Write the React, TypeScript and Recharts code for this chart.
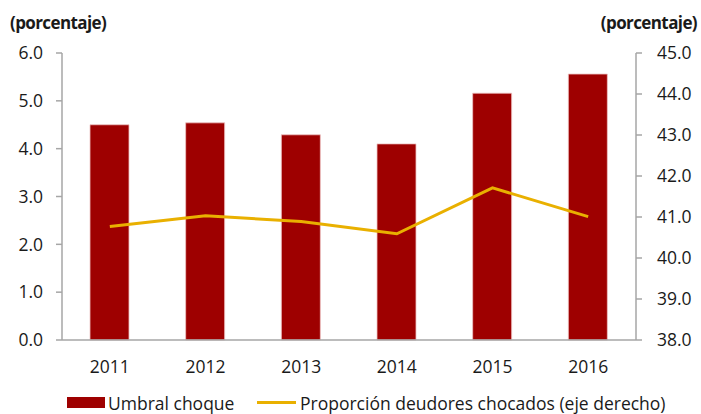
import React from "react";
import { ComposedChart, Bar, Line, XAxis, YAxis } from "recharts";

const years = ["2011", "2012", "2013", "2014", "2015", "2016"];
const umbralChoque = [4.5, 4.54, 4.29, 4.1, 5.16, 5.56];
const proporcionDeudores = [40.77, 41.03, 40.89, 40.59, 41.71, 41.01];
const leftTicks = [0, 1, 2, 3, 4, 5, 6];
const rightTicks = [38, 39, 40, 41, 42, 43, 44, 45];
const unitLabel = "(porcentaje)";
const legendBar = "Umbral choque";
const legendLine = "Proporción deudores chocados (eje derecho)";

const data = years.map((y, i) => ({
  year: y,
  umbral: umbralChoque[i],
  proporcion: proporcionDeudores[i],
}));

const FONT = "'Open Sans', 'DejaVu Sans', sans-serif";
const AXIS = "#A6A6A6";
const TXT = "#1a1a1a";
const BAR = "#9E0000";
const LINE = "#E9B000";

export default function App() {
  return (
    <div style={{ position: "absolute", left: 0, top: 0, width: 701, height: 414, background: "#fff", fontFamily: FONT }}>
      <ComposedChart
        width={701}
        height={414}
        data={data}
        margin={{ top: 53, right: 0, bottom: 0, left: 0 }}
      >
        <XAxis
          dataKey="year"
          height={74}
          tickLine={false}
          tickSize={0}
          tickMargin={21}
          axisLine={{ stroke: AXIS, strokeWidth: 1.5 }}
          tick={{ fill: TXT, fontSize: 17.5, fontFamily: FONT }}
        />
        <YAxis
          yAxisId="left"
          orientation="left"
          width={62}
          domain={[0, 6]}
          ticks={leftTicks}
          interval={0}
          tickFormatter={(v: number) => v.toFixed(1)}
          tickSize={6}
          tickMargin={13}
          axisLine={{ stroke: AXIS, strokeWidth: 1.5 }}
          tickLine={{ stroke: AXIS, strokeWidth: 1.5 }}
          tick={{ fill: TXT, fontSize: 17.5, fontFamily: FONT }}
        />
        <YAxis
          yAxisId="right"
          orientation="right"
          width={65}
          domain={[38, 45]}
          ticks={rightTicks}
          interval={0}
          tickFormatter={(v: number) => v.toFixed(1)}
          tickSize={6}
          tickMargin={15}
          axisLine={{ stroke: AXIS, strokeWidth: 1.5 }}
          tickLine={{ stroke: AXIS, strokeWidth: 1.5 }}
          tick={{ fill: TXT, fontSize: 17.5, fontFamily: FONT, textAnchor: "start" }}
        />
        <Bar
          yAxisId="left"
          dataKey="umbral"
          fill={BAR}
          stroke="#EDC4C4"
          strokeWidth={0.8}
          barSize={39}
          isAnimationActive={false}
        />
        <Line
          yAxisId="right"
          dataKey="proporcion"
          type="linear"
          stroke={LINE}
          strokeWidth={3}
          dot={false}
          activeDot={false}
          isAnimationActive={false}
        />
      </ComposedChart>
      <div style={{ position: "absolute", left: 10, top: 11, fontSize: 17, fontWeight: 700, color: TXT, whiteSpace: "nowrap", letterSpacing: -0.6 }}>
        {unitLabel}
      </div>
      <div style={{ position: "absolute", right: 4, top: 11, fontSize: 17, fontWeight: 700, color: TXT, whiteSpace: "nowrap", letterSpacing: -0.6 }}>
        {unitLabel}
      </div>
      <svg width={701} height={30} style={{ position: "absolute", left: 0, top: 388 }}>
        <rect x={67} y={9} width={38} height={11} fill={BAR} />
        <text x={108} y={22} fontSize={17.5} fontFamily={FONT} fill={TXT}>{legendBar}</text>
        <line x1={257} y1={14.5} x2={296} y2={14.5} stroke={LINE} strokeWidth={3} />
        <text x={300} y={22} fontSize={17.5} fontFamily={FONT} fill={TXT}>{legendLine}</text>
      </svg>
    </div>
  );
}
